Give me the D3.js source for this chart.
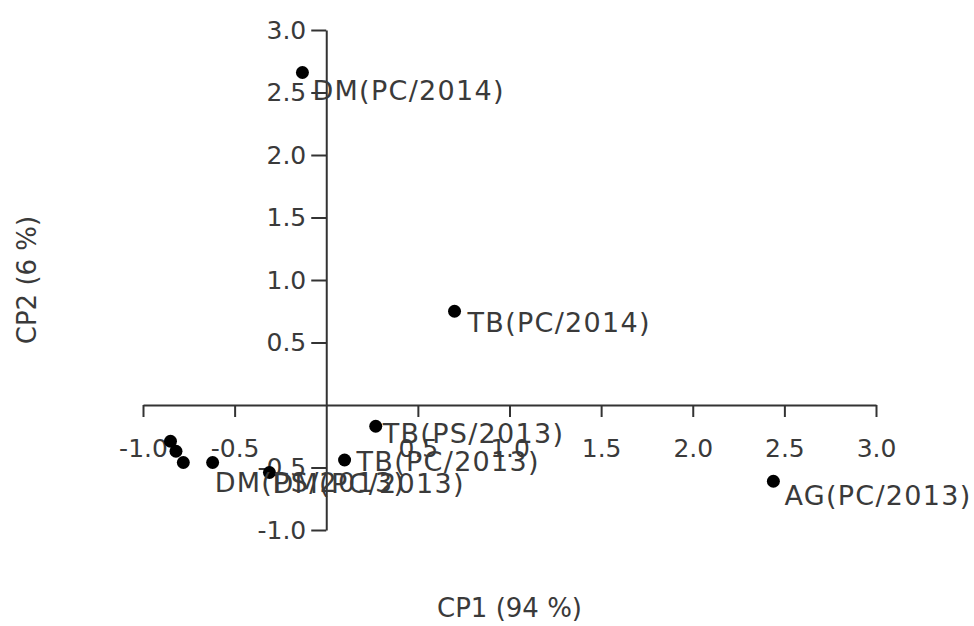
<!DOCTYPE html>
<html>
<head>
<meta charset="utf-8">
<script src="https://cdn.jsdelivr.net/npm/d3@7"></script>
<style>
  body { margin: 0; background: #fff; }
  text { font-family: "DejaVu Sans", Verdana, sans-serif; fill: #3a3a3a; }
</style>
</head>
<body>
<svg id="chart" width="974" height="626"></svg>
<script>
// PCA score plot: CP1 vs CP2

// sample labels (blank = unlabeled in the original)
const sampleLabels = ['', '', '', 'DM(PS/2013)', 'DM(PC/2013)', 'TB(PC/2013)',
  'TB(PS/2013)', 'TB(PC/2014)', 'DM(PC/2014)', 'AG(PC/2013)'];
const cp1Scores = [-0.85, -0.82, -0.78, -0.62, -0.31, 0.10, 0.27, 0.70, -0.13, 2.44];
const cp2Scores = [-0.29, -0.37, -0.46, -0.46, -0.54, -0.44, -0.17, 0.75, 2.66, -0.61];

const xTicks = [-1.0, -0.5, 0.5, 1.0, 1.5, 2.0, 2.5, 3.0];
const yTicks = [-1.0, -0.5, 0.5, 1.0, 1.5, 2.0, 2.5, 3.0];
const xTitle = 'CP1 (94 %)';
const yTitle = 'CP2 (6 %)';

// label placement tweaks (dx, dy to baseline), roughly as in the source figure
const labelNudge = {
  'DM(PS/2013)': [2, 29],
  'DM(PC/2013)': [3, 20],
  'TB(PC/2013)': [12, 11],
  'TB(PS/2013)': [7, 17],
  'TB(PC/2014)': [13, 21],
  'DM(PC/2014)': [10, 27],
  'AG(PC/2013)': [11, 24]
};

const points = sampleLabels.map((label, i) => ({ label, x: cp1Scores[i], y: cp2Scores[i] }));

// plain hyphen for negatives, like the original
const fmt = d => d3.format('.1f')(d).replace('\u2212', '-');

const svg = d3.select('#chart');

const x = d3.scaleLinear().domain([-1, 3]).range([143, 876]);
const y = d3.scaleLinear().domain([-1, 3]).range([530, 30]);

// x axis through y = 0
const xAxis = svg.append('g')
  .attr('transform', `translate(0,${y(0)})`)
  .call(d3.axisBottom(x).tickValues(xTicks).tickFormat(fmt)
    .tickSize(12).tickSizeOuter(0).tickPadding(22));

// y axis through x = 0
const yAxis = svg.append('g')
  .attr('transform', `translate(${x(0)},0)`)
  .call(d3.axisLeft(y).tickValues(yTicks).tickFormat(fmt)
    .tickSize(15).tickSizeOuter(0).tickPadding(5));

[xAxis, yAxis].forEach(g => {
  g.select('.domain').attr('stroke', '#333').attr('stroke-width', 2);
  g.selectAll('.tick line').attr('stroke', '#333').attr('stroke-width', 2);
  g.selectAll('.tick text')
    .attr('fill', '#3a3a3a')
    .style('font-family', '"DejaVu Sans", Verdana, sans-serif')
    .style('font-size', '25px');
});

// axis titles
svg.append('text')
  .attr('x', (x.range()[0] + x.range()[1]) / 2)
  .attr('y', 617)
  .attr('text-anchor', 'middle')
  .style('font-size', '26px')
  .text(xTitle);

svg.append('text')
  .attr('transform', `translate(36,${(y.range()[0] + y.range()[1]) / 2}) rotate(-90)`)
  .attr('text-anchor', 'middle')
  .style('font-size', '26px')
  .text(yTitle);

// points
svg.append('g')
  .selectAll('circle')
  .data(points)
  .join('circle')
  .attr('cx', d => x(d.x))
  .attr('cy', d => y(d.y))
  .attr('r', 6.5)
  .attr('fill', '#000');

// labels
svg.append('g')
  .selectAll('text')
  .data(points.filter(d => d.label))
  .join('text')
  .attr('x', d => x(d.x) + (labelNudge[d.label] || [10, 22])[0])
  .attr('y', d => y(d.y) + (labelNudge[d.label] || [10, 22])[1])
  .style('font-size', '27px')
  .style('letter-spacing', '1.3px')
  .text(d => d.label);
</script>
</body>
</html>
